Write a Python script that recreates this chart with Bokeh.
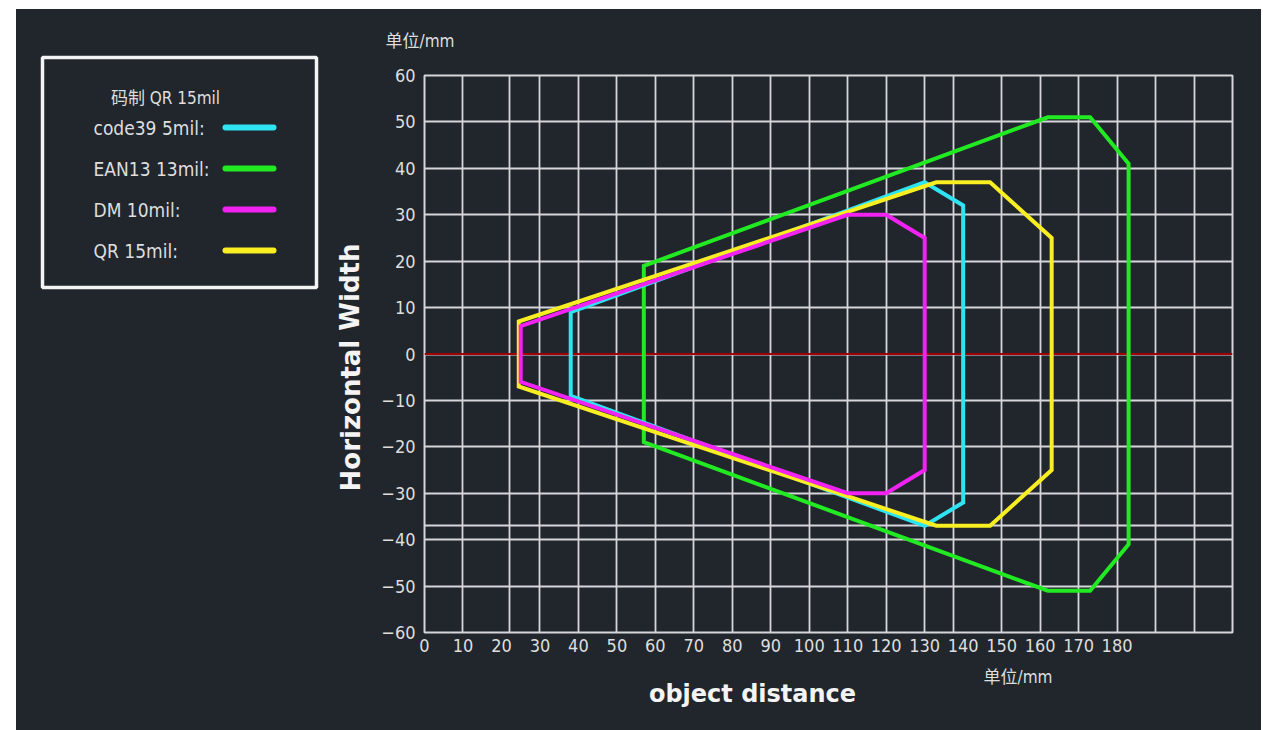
from bokeh.plotting import figure
from bokeh.models import Range1d, FixedTicker, Span
from bokeh.layouts import row, column
from bokeh.core.properties import value
from bokeh.embed import file_html
from bokeh.resources import INLINE

# ---------------- data ----------------
series_names = ["code39 5mil:", "EAN13 13mil:", "DM 10mil:", "QR 15mil:"]
series_colors = ["#2ee4f2", "#22ea22", "#f222f2", "#f8ee22"]

code39_x = [38, 130, 140, 140, 130, 38]
code39_y = [9, 37, 32, -32, -37, -9]

ean13_x = [57, 162, 173, 183, 183, 173, 162, 57]
ean13_y = [19, 51, 51, 41, -41, -51, -51, -19]

dm_x = [25, 110, 120, 130, 130, 120, 110, 25]
dm_y = [6, 30, 30, 25, -25, -30, -30, -6]

qr_x = [24.5, 133, 147, 163, 163, 147, 133, 24.5]
qr_y = [7, 37, 37, 25, -25, -37, -37, -7]

x_tick_values = list(range(0, 190, 10))
y_tick_values = list(range(-60, 70, 10))
x_grid_lines = [0, 10, 22, 30, 40, 50, 60, 70, 80, 90, 100, 110, 120, 130, 137.5,
                150, 160, 170, 180, 190, 200, 210]
y_grid_lines = y_tick_values + [-37]

legend_title = "码制 QR 15mil"
unit_text = "单位/mm"
x_title = "object distance"
y_title = "Horizontal Width"

# ---------------- style ----------------
BG = "#21262d"
GRID = "#d6d6da"
TXT = "#dedede"
THIN = "'Liberation Sans Narrow', 'DejaVu Sans Condensed', 'Noto Sans CJK SC', sans-serif"
BOLD = "'DejaVu Sans', sans-serif"


def no_align(f):
    if "frame_align" in type(f).properties():
        f.frame_align = False
    return f


def blank(w, h, x0, x1, y_top, y_bottom):
    """A plain panel whose frame fills it; coordinates are page pixels."""
    f = figure(width=w, height=h, x_range=Range1d(x0, x1), y_range=Range1d(y_bottom, y_top),
               output_backend="svg", toolbar_location=None,
               x_axis_location=None, y_axis_location=None,
               min_border=0, background_fill_color=BG, border_fill_color=BG)
    f.grid.visible = False
    f.outline_line_color = None
    return no_align(f)


def txt(f, x, y, text, size, font=THIN, align="left", style="normal", angle=0, color=TXT):
    f.text(x=[x], y=[y], text=[text], text_color=color, text_font=value(font),
           text_font_size=value(size), text_font_style=style, text_align=align,
           text_baseline="middle", angle=angle)


# ---------------- left panel: legend + y title ----------------
left = blank(360, 721, 16, 376, 9, 730)
left.quad(left=[42], right=[316], top=[57], bottom=[287], fill_color=None,
          line_color="#f4f4f4", line_width=3.5)
txt(left, 165, 97, legend_title, "17px", align="center")
for i, (name, col) in enumerate(zip(series_names, series_colors)):
    yc = 127 + i * 41
    txt(left, 93, yc, name, "19px")
    left.segment(x0=[225], y0=[yc], x1=[273], y1=[yc], line_color=col,
                 line_width=6, line_cap="round")
txt(left, 350, 367, y_title, "26px", font=BOLD, align="center", style="bold",
    angle=1.5708, color="#f4f4f4")

# ---------------- top strip ----------------
top = blank(885, 57, 376, 1261, 9, 66)
txt(top, 385, 40, unit_text, "17px")

# ---------------- main chart ----------------
p = figure(width=885, height=598, x_range=Range1d(0, 210), y_range=Range1d(-60, 60),
           output_backend="svg", toolbar_location=None,
           min_border_left=48, min_border_right=29, min_border_top=9, min_border_bottom=32,
           background_fill_color=BG, border_fill_color=BG)
no_align(p)
p.outline_line_color = GRID
p.outline_line_width = 2

p.xgrid.ticker = FixedTicker(ticks=x_grid_lines)
p.ygrid.ticker = FixedTicker(ticks=y_grid_lines)
for g in (p.xgrid, p.ygrid):
    g.grid_line_color = GRID
    g.grid_line_width = 1.8
    g.grid_line_alpha = 1.0

p.xaxis.ticker = FixedTicker(ticks=x_tick_values)
p.yaxis.ticker = FixedTicker(ticks=y_tick_values)
for ax in (p.xaxis, p.yaxis):
    ax.axis_line_color = None
    ax.major_tick_line_color = None
    ax.minor_tick_line_color = None
    ax.major_tick_out = 0
    ax.major_tick_in = 0
    ax.major_label_text_color = TXT
    ax.major_label_text_font = THIN
    ax.major_label_text_font_size = "18px"
p.xaxis.major_label_standoff = 6
p.yaxis.major_label_standoff = 9

zero = Span(location=0, dimension="width", line_color="#a00000", line_width=2, level="underlay")
p.add_layout(zero)

for xs, ys, c in [(ean13_x, ean13_y, series_colors[1]),
                  (code39_x, code39_y, series_colors[0]),
                  (qr_x, qr_y, series_colors[3]),
                  (dm_x, dm_y, series_colors[2])]:
    p.patch(xs, ys, fill_color=None, line_color=c, line_width=4, line_join="miter")

# ---------------- bottom strip ----------------
bottom = blank(885, 66, 376, 1261, 664, 730)
txt(bottom, 983, 676, unit_text, "17px")
txt(bottom, 752, 693, x_title, "24px", font=BOLD, align="center", style="bold", color="#f4f4f4")

right = column(top, p, bottom, spacing=0)
right.styles = {"background-color": BG}
layout = row(left, right, spacing=0)
layout.margin = (9, 0, 0, 16)
layout.styles = {"background-color": BG}
open("out.html", "w").write(file_html(layout, INLINE))
